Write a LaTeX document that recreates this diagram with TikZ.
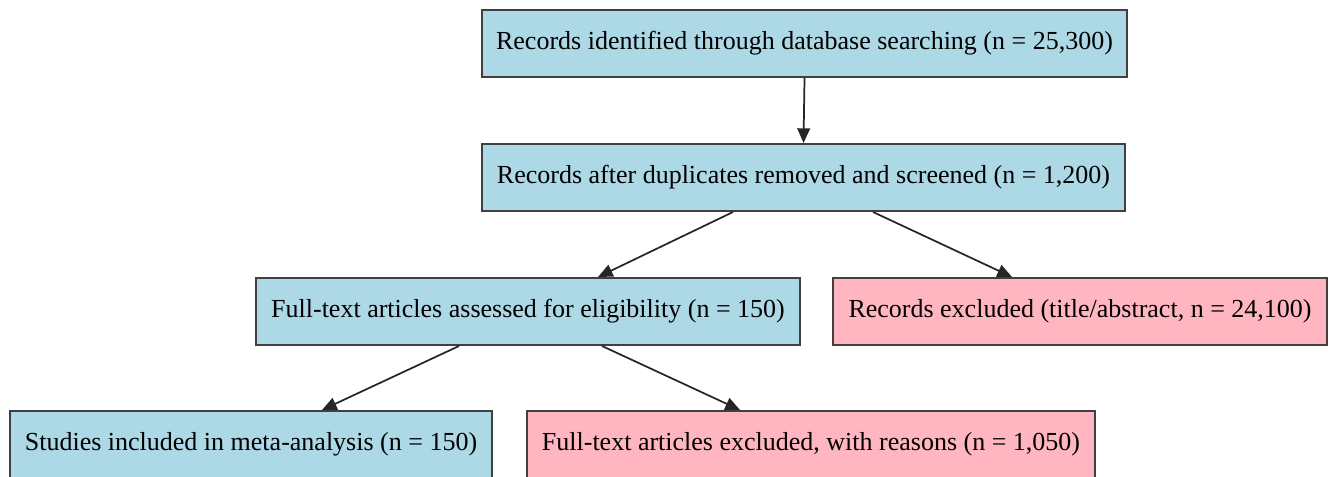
\documentclass[tikz,border=0pt]{standalone}
\usepackage{fontspec}
\setmainfont{Liberation Serif}
\usetikzlibrary{arrows.meta}
\definecolor{boxblue}{HTML}{ADD8E6}
\definecolor{boxpink}{HTML}{FFB6C1}
\definecolor{edgegray}{HTML}{404040}
\begin{document}
\begin{tikzpicture}[x=0.75pt,y=-0.75pt,
  box/.style={draw=edgegray,line width=1.5pt,rectangle,inner sep=0pt,
    minimum height=67*0.75pt,font=\fontsize{19.5}{22}\selectfont,text=black},
  bluebox/.style={box,fill=boxblue},
  pinkbox/.style={box,fill=boxpink},
  arr/.style={draw=black!85,line width=1.3pt,-{Triangle[length=11pt,width=9.5pt]}}]
\useasboundingbox (0,0) rectangle (1333,477);
\node[bluebox,minimum width=645*0.75pt] (b1) at (804.5,43.5) {Records identified through database searching (n = 25,300)};
\node[bluebox,minimum width=643*0.75pt] (b2) at (803.5,177.5) {Records after duplicates removed and screened (n = 1,200)};
\node[bluebox,minimum width=544*0.75pt] (b3) at (528,311.5) {Full-text articles assessed for eligibility (n = 150)};
\node[pinkbox,minimum width=494*0.75pt] (b4) at (1080,311.5) {Records excluded (title/abstract, n = 24,100)};
\node[bluebox,minimum width=482*0.75pt] (b5) at (251,444.5) {Studies included in meta-analysis (n = 150)};
\node[pinkbox,minimum width=568*0.75pt] (b6) at (811,444.5) {Full-text articles excluded, with reasons (n = 1,050)};
\draw[arr] (b1.south) -- (b2.north);
\draw[arr] ([xshift=-70.5*0.75pt]b2.south) -- ([xshift=70*0.75pt]b3.north);
\draw[arr] ([xshift=69.5*0.75pt]b2.south) -- ([xshift=-68*0.75pt]b4.north);
\draw[arr] ([xshift=-69*0.75pt]b3.south) -- ([xshift=71*0.75pt]b5.north);
\draw[arr] ([xshift=74*0.75pt]b3.south) -- ([xshift=-71*0.75pt]b6.north);
\end{tikzpicture}
\end{document}
